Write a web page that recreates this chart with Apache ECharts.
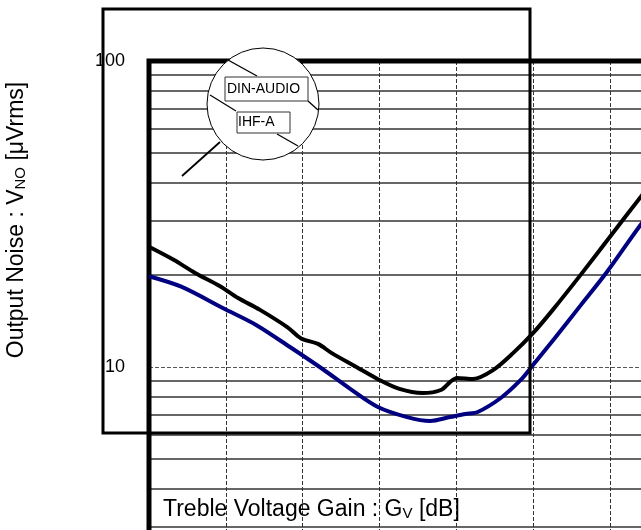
<!DOCTYPE html>
<html>
<head>
<meta charset="utf-8">
<script src="https://cdn.jsdelivr.net/npm/echarts@6/dist/echarts.min.js"></script>
<style>html,body{margin:0;padding:0;background:#fff;}#c{width:641px;height:530px;}</style>
</head>
<body>
<div id="c"></div>
<script>
// Treble voltage gain [dB] vs output noise [uVrms]
const dinGain  = [-20, -18.4, -17.0, -15.4, -14.2, -12.8, -11.0, -10.1, -9.0, -8.1, -6.5, -5.0, -3.7, -2.2, -1.0, -0.4, 0.05, 1.1, 2.4, 3.7, 5.0, 6.3, 8.1, 10.0, 12.0, 13.9];
const dinNoise = [24.7, 22.4, 20.3, 18.4, 16.8, 15.4, 13.5, 12.4, 11.9, 11.1, 10.0, 9.07, 8.48, 8.22, 8.41, 8.93, 9.21, 9.14, 9.77, 11.1, 12.9, 15.4, 20.0, 26.6, 35.9, 47.5];
const ihfGain  = [-20, -17.9, -15.1, -13.0, -10.8, -8.7, -6.9, -5.1, -3.2, -1.7, -0.4, 0.6, 1.4, 2.9, 4.2, 5.0, 6.4, 8.1, 9.8, 12.0, 13.9];
const ihfNoise = [19.8, 18.3, 15.5, 13.7, 11.6, 9.85, 8.48, 7.40, 6.86, 6.66, 6.86, 7.02, 7.13, 7.92, 9.07, 10.15, 12.4, 15.9, 20.4, 29.1, 38.5];
const seriesNames = ['DIN-AUDIO', 'IHF-A'];
const minorGrid = [2, 3, 4, 5, 6, 7, 8, 9, 20, 30, 40, 50, 60, 70, 80, 90];
const xTitle = 'Treble Voltage Gain : G{s|V} [dB]';
const yTitle = 'Output Noise : V{s|NO} [μVrms]';

const FONT = '"Liberation Sans", Arial, sans-serif';
const chart = echarts.init(document.getElementById('c'), null, {renderer: 'canvas'});
const zip = (a, b) => a.map((v, i) => [v, b[i]]);

chart.setOption({
  animation: false,
  backgroundColor: '#fff',
  grid: {left: 149, top: 61, right: -122.4, bottom: -143, outerBoundsMode: 'none', containLabel: false,
         show: true, borderColor: '#000', borderWidth: 5, backgroundColor: 'transparent', z: 3},
  xAxis: {
    type: 'value', min: -20, max: 20, interval: 5,
    axisLine: {show: false}, axisTick: {show: false}, axisLabel: {show: false},
    splitLine: {show: true, lineStyle: {color: '#333', width: 1, type: [4, 2]}}
  },
  yAxis: {
    type: 'log', logBase: 10, min: 1, max: 100,
    axisLine: {show: false}, axisTick: {show: false},
    axisLabel: {color: '#000', fontSize: 18, fontFamily: FONT, margin: 24},
    splitLine: {show: true, lineStyle: {color: '#555', width: 1, type: [4, 2]}}
  },
  series: [
    {
      name: seriesNames[0], type: 'line', data: zip(dinGain, dinNoise), smooth: 0.3,
      showSymbol: false, lineStyle: {color: '#000', width: 4}, z: 5,
      markLine: {
        silent: true, symbol: 'none', label: {show: false},
        lineStyle: {color: '#333', width: 1.5, type: 'solid'},
        data: minorGrid.map(v => ({yAxis: v})),
        z: 1
      }
    },
    {
      name: seriesNames[1], type: 'line', data: zip(ihfGain, ihfNoise), smooth: 0.3,
      showSymbol: false, lineStyle: {color: '#000080', width: 4}, z: 5
    }
  ],
  graphic: [
    {type: 'rect', z: 100, shape: {x: 103, y: 9, width: 427, height: 424}, style: {fill: 'none', stroke: '#000', lineWidth: 3}},
    {type: 'circle', z: 100, shape: {cx: 263, cy: 104, r: 56}, style: {fill: '#fff', stroke: '#000', lineWidth: 1}},
    {type: 'line', z: 101, shape: {x1: 228, y1: 60, x2: 257, y2: 76}, style: {stroke: '#000', lineWidth: 1.3}},
    {type: 'line', z: 101, shape: {x1: 308, y1: 101, x2: 318, y2: 110}, style: {stroke: '#000', lineWidth: 1.3}},
    {type: 'line', z: 101, shape: {x1: 210, y1: 95, x2: 236, y2: 111}, style: {stroke: '#000', lineWidth: 1.3}},
    {type: 'line', z: 101, shape: {x1: 277, y1: 134, x2: 298, y2: 146}, style: {stroke: '#000', lineWidth: 1.3}},
    {type: 'line', z: 101, shape: {x1: 182, y1: 176, x2: 220, y2: 142}, style: {stroke: '#000', lineWidth: 1.8}},
    {type: 'rect', z: 102, shape: {x: 225, y: 77, width: 83, height: 24}, style: {fill: '#fff', stroke: '#333', lineWidth: 1}},
    {type: 'text', z: 103, x: 227, y: 89, style: {text: seriesNames[0], font: '14px ' + FONT, fill: '#000', textVerticalAlign: 'middle'}},
    {type: 'rect', z: 102, shape: {x: 237, y: 112, width: 53, height: 21}, style: {fill: '#fff', stroke: '#333', lineWidth: 1}},
    {type: 'text', z: 103, x: 238, y: 122.5, style: {text: seriesNames[1], font: '14px ' + FONT, fill: '#000', textVerticalAlign: 'middle'}},
    {type: 'text', z: 103, x: 163, y: 510, style: {
      text: xTitle, fill: '#000', font: '23px ' + FONT, textVerticalAlign: 'middle',
      rich: {s: {fontSize: 15, fontFamily: FONT, fill: '#000', verticalAlign: 'bottom', padding: [0, 0, 0, 0]}}
    }},
    {type: 'text', z: 103, x: 17, y: 220, rotation: Math.PI / 2, style: {
      text: yTitle, fill: '#000', font: '23px ' + FONT, textAlign: 'center', textVerticalAlign: 'middle',
      rich: {s: {fontSize: 15, fontFamily: FONT, fill: '#000', verticalAlign: 'bottom'}}
    }}
  ]
});
</script>
</body>
</html>
